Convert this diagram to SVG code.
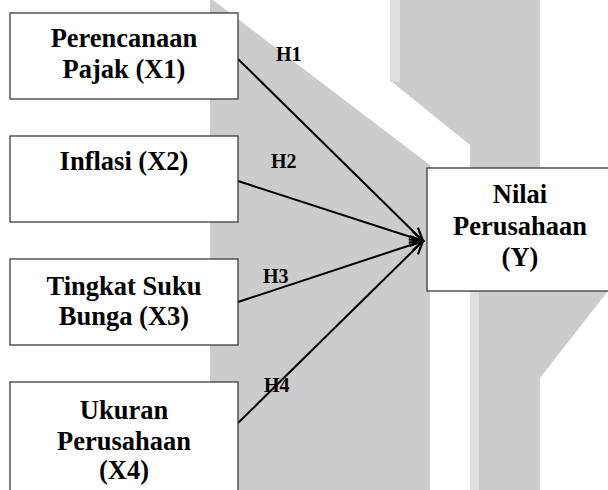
<svg xmlns="http://www.w3.org/2000/svg" width="608" height="490" viewBox="0 0 608 490">
  <style>
    .bg { fill: #cccccc; }
    .bg-edge { fill: #dedede; }
    .box { fill: #ffffff; stroke: #3c3c3c; stroke-width: 1.3; }
    .lbl { font-family: "Liberation Serif", "Times New Roman", serif; font-weight: bold; font-size: 26.5px; fill: #000000; text-anchor: middle; }
    .hyp { font-family: "Liberation Serif", "Times New Roman", serif; font-weight: bold; font-size: 20px; fill: #000000; }
    .conn { stroke: #000000; stroke-width: 2; fill: none; marker-end: url(#arrow); }
  </style>
  <defs>
    <marker id="arrow" markerUnits="userSpaceOnUse" markerWidth="16" markerHeight="16" viewBox="0 0 16 16" refX="14" refY="8" orient="auto">
      <path d="M1,2 L14,8 L1,14" fill="none" stroke="#000000" stroke-width="2.2" stroke-linejoin="miter"/>
    </marker>
  </defs>

  <rect width="608" height="490" fill="#ffffff"/>

  <!-- background watermark shapes -->
  <g id="backdrop">
    <polygon class="bg" points="210,0 213,0 430,165 430,490 210,490"/>
    <polygon class="bg" points="390,0 540,0 540,200 615,282 540,378 540,490 470,490 470,145 392,82 390,82"/>
    <rect class="bg-edge" x="390" y="0" width="10" height="82"/>
    <rect class="bg-edge" x="470" y="292" width="9" height="198"/>
  </g>

  <!-- connectors -->
  <g id="connectors">
    <line class="conn" x1="238" y1="59" x2="423" y2="241"/>
    <line class="conn" x1="238" y1="181" x2="423" y2="241"/>
    <line class="conn" x1="238" y1="302" x2="423" y2="241"/>
    <line class="conn" x1="238" y1="423" x2="423" y2="241"/>
  </g>

  <g id="hypotheses">
    <text class="hyp" x="276" y="61">H1</text>
    <text class="hyp" x="271" y="168">H2</text>
    <text class="hyp" x="263" y="283">H3</text>
    <text class="hyp" x="264" y="392">H4</text>
  </g>

  <g id="x1">
    <rect class="box" x="10" y="13" width="228" height="86"/>
    <text class="lbl" x="124" y="47">Perencanaan</text>
    <text class="lbl" x="124" y="78">Pajak (X1)</text>
  </g>

  <g id="x2">
    <rect class="box" x="10" y="136" width="228" height="86"/>
    <text class="lbl" x="124" y="170">Inflasi (X2)</text>
  </g>

  <g id="x3">
    <rect class="box" x="10" y="259" width="228" height="86"/>
    <text class="lbl" x="124" y="295">Tingkat Suku</text>
    <text class="lbl" x="124" y="325">Bunga (X3)</text>
  </g>

  <g id="x4">
    <rect class="box" x="10" y="382" width="228" height="130"/>
    <text class="lbl" x="124" y="419">Ukuran</text>
    <text class="lbl" x="124" y="450">Perusahaan</text>
    <text class="lbl" x="124" y="479">(X4)</text>
  </g>

  <g id="y">
    <rect class="box" x="427" y="168" width="200" height="123"/>
    <text class="lbl" x="520" y="203">Nilai</text>
    <text class="lbl" x="520" y="235">Perusahaan</text>
    <text class="lbl" x="520" y="266">(Y)</text>
  </g>
</svg>
